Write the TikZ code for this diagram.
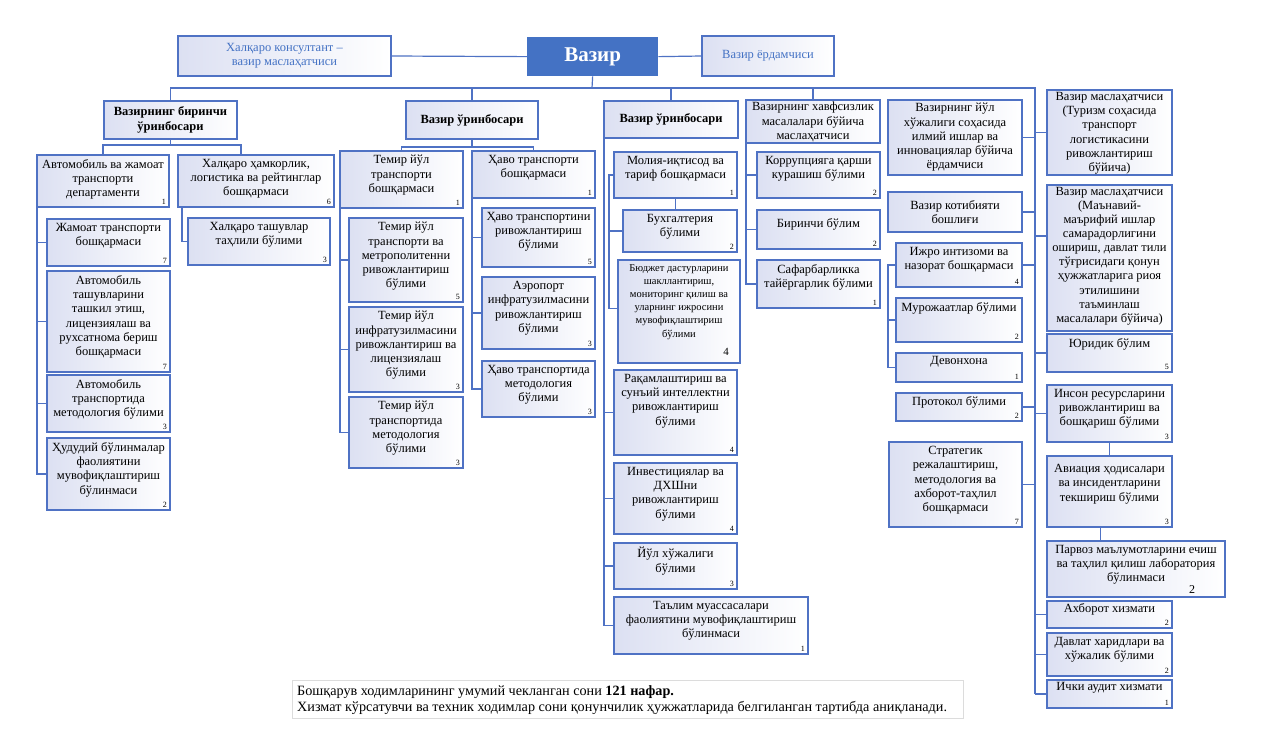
\documentclass[tikz,border=0pt]{standalone}
\usepackage{fontspec}
\setmainfont{Liberation Serif}
\usetikzlibrary{calc}
\definecolor{bord}{RGB}{79,114,196}
\definecolor{grad}{RGB}{220,224,242}
\definecolor{vz}{RGB}{68,114,196}
\definecolor{notegray}{RGB}{220,220,220}
\tikzset{
  ubox/.style={draw=bord, line width=1.3pt, left color=grad, right color=white, inner sep=0pt, outer sep=0pt, anchor=north west},
  utxt/.style={align=center, font=\fontsize{12.5}{14.3}\selectfont, inner sep=0pt, anchor=north},
  unum/.style={font=\fontsize{8}{9}\selectfont, inner sep=0pt, anchor=south east},
  deptxt/.style={anchor=center, font=\bfseries\fontsize{12.5}{15}\selectfont},
  conn/.style={draw=bord, line width=1.2pt},
}
\newcommand\ubx[8][]{%
  \node[ubox, minimum width={(#5-#3)*1pt}, minimum height={(#6-#4)*1pt}] (#2) at (#3,#4) {};
  \node[utxt, #1] (#2-t) at ([yshift=-4pt]#2.north) {#7};
  \node[unum] (#2-n) at ([xshift=-3pt,yshift=2pt]#2.south east) {#8};
}
\begin{document}
\begin{tikzpicture}[x=1pt,y=-1pt]
\useasboundingbox[fill=white] (0,0) rectangle (1264,749);
% top
\node[draw=vz, fill=vz, line width=1.3pt, minimum width=130pt, minimum height=38pt, anchor=north west, inner sep=0pt, text=white, font=\bfseries\fontsize{21}{24}\selectfont] (vazir) at (527,37) {Вазир};
\ubx[text=vz, anchor=center, yshift=-16pt]{cons}{178}{36}{391}{76}{Халқаро консултант –\\вазир маслаҳатчиси}{}
\ubx[text=vz, anchor=center, yshift=-16pt]{yordam}{702}{36}{834}{76}{Вазир ёрдамчиси}{}
% column 1
\ubx[deptxt, yshift=-15pt]{dep1}{104}{101}{237}{139}{Вазирнинг биринчи\\ўринбосари}{}
\ubx{avto}{37}{155}{169}{207}{Автомобиль ва жамоат\\транспорти\\департаменти}{1}
\ubx{halq}{178}{155}{334}{207}{Халқаро ҳамкорлик,\\логистика ва рейтинглар\\бошқармаси}{6}
\ubx{jamoat}{47}{219}{170}{266}{Жамоат транспорти\\бошқармаси}{7}
\ubx{avtotash}{47}{271}{170}{372}{Автомобиль\\ташувларини\\ташкил этиш,\\лицензиялаш ва\\рухсатнома бериш\\бошқармаси}{7}
\ubx{avtomet}{47}{375}{170}{432}{Автомобиль\\транспортида\\методология бўлими}{3}
\ubx{hudud}{47}{438}{170}{510}{Ҳудудий бўлинмалар\\фаолиятини\\мувофиқлаштириш\\бўлинмаси}{2}
\ubx{halqtash}{188}{218}{330}{265}{Халқаро ташувлар\\таҳлили бўлими}{3}
% column 2
\ubx[deptxt, yshift=-15pt]{dep2}{406}{101}{538}{139}{Вазир ўринбосари}{}
\ubx{temir}{340}{151}{463}{208}{Темир йўл\\транспорти\\бошқармаси}{1}
\ubx{havo}{472}{151}{595}{198}{Ҳаво транспорти\\бошқармаси}{1}
\ubx{temir1}{349}{218}{463}{302}{Темир йўл\\транспорти ва\\метрополитенни\\ривожлантириш\\бўлими}{5}
\ubx{temir2}{349}{307}{463}{392}{Темир йўл\\инфратузилмасини\\ривожлантириш ва\\лицензиялаш\\бўлими}{3}
\ubx{temir3}{349}{397}{463}{468}{Темир йўл\\транспортида\\методология\\бўлими}{3}
\ubx{havo1}{482}{208}{595}{267}{Ҳаво транспортини\\ривожлантириш\\бўлими}{5}
\ubx{havo2}{482}{277}{595}{349}{Аэропорт\\инфратузилмасини\\ривожлантириш\\бўлими}{3}
\ubx{havo3}{482}{361}{595}{417}{Ҳаво транспортида\\методология\\бўлими}{3}
% column 3
\ubx[deptxt, yshift=-14.5pt]{dep3}{604}{101}{738}{138}{Вазир ўринбосари}{}
\ubx{moliya}{614}{152}{737}{198}{Молия-иқтисод ва\\тариф бошқармаси}{1}
\ubx{buh}{623}{210}{737}{252}{Бухгалтерия\\бўлими}{2}
\ubx[font=\fontsize{10.5}{13.2}\selectfont]{budjet}{618}{260}{740}{363}{Бюджет дастурларини\\шакллантириш,\\мониторинг қилиш ва\\уларнинг ижросини\\мувофиқлаштириш\\бўлими}{}
\node[font=\fontsize{11}{12}\selectfont, inner sep=0pt] (budjet-n4) at (726,352) {4};
\ubx{raqam}{614}{370}{737}{455}{Рақамлаштириш ва\\сунъий интеллектни\\ривожлантириш\\бўлими}{4}
\ubx{invest}{614}{463}{737}{534}{Инвестициялар ва\\ДХШни\\ривожлантириш\\бўлими}{4}
\ubx{yul}{614}{543}{737}{589}{Йўл хўжалиги\\бўлими}{3}
\ubx{talim}{614}{597}{808}{654}{Таълим муассасалари\\фаолиятини мувофиқлаштириш\\бўлинмаси}{1}
% column 4
\ubx[yshift=2pt]{xavf}{746}{100}{880}{143}{Вазирнинг хавфсизлик\\масалалари бўйича\\маслаҳатчиси}{}
\ubx{korr}{757}{152}{880}{198}{Коррупцияга қарши\\курашиш бўлими}{2}
\ubx[yshift=-4pt]{birinchi}{757}{210}{880}{249}{Биринчи бўлим}{2}
\ubx{safar}{757}{260}{880}{308}{Сафарбарликка\\тайёргарлик бўлими}{1}
% column 5
\ubx[yshift=1pt]{yulxoj}{888}{100}{1022}{175}{Вазирнинг йўл\\хўжалиги соҳасида\\илмий ишлар ва\\инновациялар бўйича\\ёрдамчиси}{}
\ubx[anchor=center, yshift=-16pt]{kotib}{888}{192}{1022}{232}{Вазир котибияти\\бошлиғи}{}
\ubx{ijro}{896}{243}{1022}{287}{Ижро интизоми ва\\назорат бошқармаси}{4}
\ubx{murojaat}{896}{298}{1022}{342}{Мурожаатлар бўлими}{2}
\ubx[yshift=1pt]{devon}{896}{353}{1022}{382}{Девонхона}{1}
\ubx[yshift=1pt]{protokol}{896}{393}{1022}{421}{Протокол бўлими}{2}
\ubx{strateg}{889}{442}{1022}{527}{Стратегик\\режалаштириш,\\методология ва\\ахборот-таҳлил\\бошқармаси}{7}
% column 6
\ubx[yshift=2pt]{turizm}{1047}{90}{1172}{175}{Вазир маслаҳатчиси\\(Туризм соҳасида\\транспорт\\логистикасини\\ривожлантириш\\бўйича)}{}
\ubx[yshift=2pt, font=\fontsize{12.5}{14.1}\selectfont]{manaviy}{1047}{185}{1172}{331}{Вазир маслаҳатчиси\\(Маънавий-\\маърифий ишлар\\самарадорлигини\\ошириш, давлат тили\\тўғрисидаги қонун\\ҳужжатларига риоя\\этилишини\\таъминлаш\\масалалари бўйича)}{}
\ubx{yurid}{1047}{334}{1172}{372}{Юридик бўлим}{5}
\ubx{inson}{1047}{385}{1172}{442}{Инсон ресурсларини\\ривожлантириш ва\\бошқариш бўлими}{3}
\ubx[yshift=-4pt]{aviats}{1047}{456}{1172}{527}{Авиация ҳодисалари\\ва инсидентларини\\текшириш бўлими}{3}
\ubx{parvoz}{1047}{541}{1225}{597}{Парвоз маълумотларини ечиш\\ва таҳлил қилиш лаборатория\\бўлинмаси}{}
\node[font=\fontsize{12}{13}\selectfont, inner sep=0pt] (parvoz-n2) at (1192,590) {2};
\ubx[yshift=2pt]{axborot}{1047}{601}{1172}{628}{Ахборот хизмати}{2}
\ubx{davlat}{1047}{633}{1172}{676}{Давлат харидлари ва\\хўжалик бўлими}{2}
\ubx[yshift=2pt]{ichki}{1047}{680}{1172}{708}{Ички аудит хизмати}{1}
% note
\node[draw=notegray, line width=0.8pt, minimum width=671pt, minimum height=38pt, anchor=north west, inner sep=0pt] (note) at (292,680) {};
\node[anchor=north west, align=left, inner sep=0pt, font=\fontsize{14.2}{16}\selectfont] (note-t) at ([xshift=5pt,yshift=-5pt]note.north west) {Бошқарув ходимларининг умумий чекланган сони \textbf{121 нафар.}\\Хизмат кўрсатувчи ва техник ходимлар сони қонунчилик ҳужжатларида белгиланган тартибда аниқланади.};
% connectors
\coordinate (bus) at (592,88);
\coordinate (spine) at (1035,88);
\draw[conn] (cons.east) -- (vazir.west);
\draw[conn] (vazir.east) -- (yordam.west);
\draw[conn] (vazir.south) -- (bus);
\draw[conn] (dep1.north) |- (bus) -| (spine) -- (spine |- ichki.west);
\draw[conn] (dep2.north) -- (dep2.north |- bus);
\draw[conn] (dep3.north) -- (dep3.north |- bus);
\draw[conn] (xavf.north) -- (xavf.north |- bus);
% dep1
\coordinate (d1b) at ([yshift=-6pt]dep1.south);
\draw[conn] (dep1.south) -- (d1b);
\draw[conn] (avto.north) |- (d1b) -| ([xshift=-15pt]halq.north);
\draw[conn] (avto.south west) |- (hudud.west);
\foreach \n in {jamoat, avtotash, avtomet} \draw[conn] (avto.south west |- \n.west) -- (\n.west);
\draw[conn] ([xshift=4pt]halq.south west) |- (halqtash.west);
% dep2
\coordinate (d2b) at ([yshift=-8pt]dep2.south);
\draw[conn] (dep2.south) -- (d2b);
\draw[conn] (temir.north) |- (d2b) -| (havo.north);
\draw[conn] (temir.south west) |- (temir3.west);
\foreach \n in {temir1, temir2} \draw[conn] (temir.south west |- \n.west) -- (\n.west);
\draw[conn] (havo.south west) |- (havo3.west);
\foreach \n in {havo1, havo2} \draw[conn] (havo.south west |- \n.west) -- (\n.west);
% dep3
\draw[conn] (dep3.south west) |- (talim.west);
\foreach \n in {raqam, invest, yul} \draw[conn] (dep3.south west |- \n.west) -- (\n.west);
\coordinate (mi) at ([xshift=-5pt]moliya.west);
\draw[conn] (moliya.west) -- (mi) |- ([yshift=3pt]budjet.west);
\draw[conn] (mi |- buh.west) -- (buh.west);
\draw[conn] (moliya.south) -- (moliya.south |- buh.north);
% xavf
\draw[conn] (xavf.south west) |- (safar.west);
\foreach \n in {korr, birinchi} \draw[conn] (xavf.south west |- \n.west) -- (\n.west);
% spine stubs
\foreach \n in {yulxoj, kotib, ijro, protokol, strateg} \draw[conn] (\n.east) -- (\n.east -| spine);
\foreach \n in {turizm, yurid, inson, axborot, davlat, ichki} \draw[conn] (\n.west -| spine) -- (\n.west);
\draw[conn] ([yshift=22pt]manaviy.west -| spine) -- ([yshift=22pt]manaviy.west);
\coordinate (ij) at ([xshift=-8pt]ijro.west);
\draw[conn] (ijro.west) -- (ij) |- (devon.west);
\draw[conn] (ij |- murojaat.west) -- (murojaat.west);
\draw[conn] (inson.south) -- (inson.south |- aviats.north);
\draw[conn] ([xshift=-9pt]aviats.south) -- ([xshift=-9pt]aviats.south |- parvoz.north);
\end{tikzpicture}
\end{document}
